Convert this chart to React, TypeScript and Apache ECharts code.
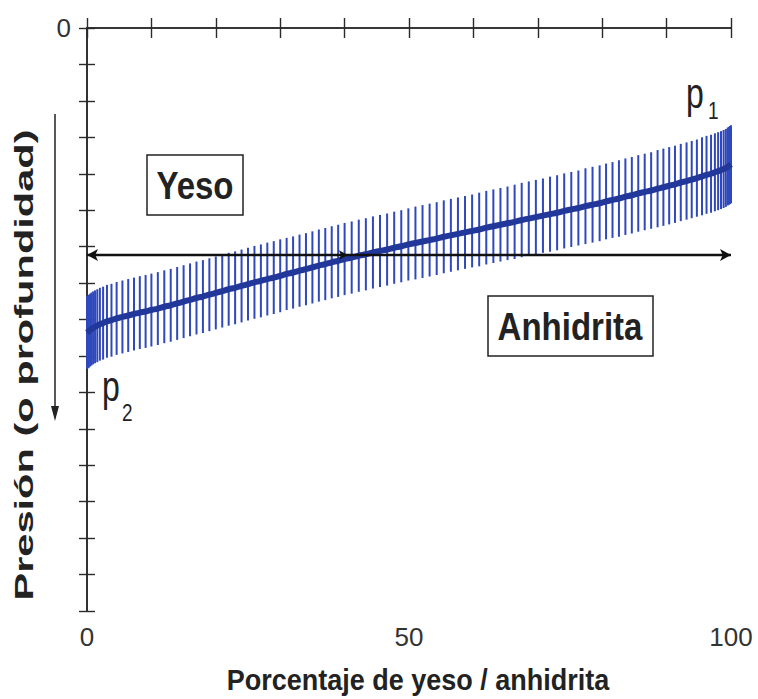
import React, { useEffect, useRef } from "react";
import * as echarts from "echarts";

// Percentage of gypsum (x) at each error-bar position
const xs = [
  0, 0.15, 0.3, 0.5, 0.7, 0.95, 1.25, 1.6, 2.0, 2.5, 3.1, 3.8, 4.6, 5.5, 6.4, 7.3, 8.2, 9.1, 10.0,
  11, 12, 13, 14, 15, 16, 17, 18, 19, 20, 21, 22, 23, 24, 25, 26, 27, 28, 29, 30,
  31, 32, 33, 34, 35, 36, 37, 38, 39, 40,
  41.1, 42.2, 43.3, 44.4, 45.5, 46.6, 47.7, 48.8, 49.9, 51.0, 52.1, 53.2, 54.3, 55.4, 56.5, 57.6,
  58.7, 59.8, 60.9, 62.0, 63.1, 64.2, 65.3, 66.4, 67.5, 68.6, 69.7, 70.8, 71.9, 73.0, 74.1, 75.2,
  76.3, 77.4, 78.5, 79.6, 80.6, 81.6, 82.6, 83.6, 84.6, 85.6, 86.6, 87.6, 88.6, 89.5, 90.4, 91.3,
  92.2, 93.1, 93.9, 94.7, 95.5, 96.2, 96.9, 97.5, 98.0, 98.45, 98.85, 99.2, 99.5, 99.7, 99.85, 100,
];

// Pressure (depth) of the equilibrium curve at each position
const center = [
  8.36, 8.34, 8.32, 8.29, 8.26, 8.23, 8.2, 8.17, 8.13, 8.1, 8.05, 8.02, 7.97, 7.93, 7.89, 7.85, 7.81, 7.78, 7.74,
  7.7, 7.65, 7.61, 7.56, 7.51, 7.46, 7.41, 7.37, 7.32, 7.27, 7.22, 7.17, 7.13, 7.08, 7.03, 6.98, 6.94, 6.89, 6.85, 6.8,
  6.75, 6.71, 6.66, 6.62, 6.57, 6.52, 6.48, 6.43, 6.39, 6.34,
  6.3, 6.25, 6.21, 6.16, 6.12, 6.08, 6.03, 5.99, 5.94, 5.9, 5.86, 5.82, 5.78, 5.73, 5.69, 5.65,
  5.61, 5.57, 5.53, 5.48, 5.44, 5.4, 5.36, 5.32, 5.27, 5.23, 5.19, 5.15, 5.11, 5.07, 5.02, 4.98,
  4.94, 4.89, 4.85, 4.81, 4.76, 4.72, 4.68, 4.63, 4.59, 4.54, 4.5, 4.46, 4.41, 4.37, 4.33, 4.29,
  4.24, 4.2, 4.16, 4.12, 4.07, 4.03, 4.0, 3.96, 3.93, 3.9, 3.87, 3.84, 3.8, 3.78, 3.76, 3.74,
];

// Half-width of the uncertainty bar at each position
const errs = [
  1.0, 1.0, 1.0, 1.0, 1.0, 1.0, 1.0, 1.0, 1.0, 1.0, 1.0, 1.0, 1.0, 1.0, 1.0, 1.0, 1.0, 1.0, 1.0,
  1.0, 1.0, 1.0, 1.0, 1.0, 1.0, 1.0, 1.0, 1.0, 1.0, 1.0, 1.0, 1.0, 1.0, 1.0, 1.0, 1.0, 1.0, 1.0, 1.0,
  0.99, 0.99, 0.99, 0.99, 0.99, 0.99, 0.99, 0.99, 0.99, 0.99,
  0.99, 0.99, 0.99, 0.99, 0.99, 0.99, 0.99, 0.99, 0.99, 1.0, 1.0, 1.0, 1.0, 1.0, 1.0, 1.0,
  1.0, 1.0, 1.01, 1.01, 1.01, 1.01, 1.01, 1.02, 1.02, 1.02, 1.02, 1.02, 1.03, 1.03, 1.03, 1.03,
  1.03, 1.04, 1.04, 1.04, 1.04, 1.04, 1.05, 1.05, 1.05, 1.05, 1.05, 1.05, 1.06, 1.06, 1.06, 1.06,
  1.06, 1.06, 1.06, 1.06, 1.07, 1.07, 1.07, 1.07, 1.07, 1.07, 1.07, 1.07, 1.07, 1.07, 1.07, 1.07,
];

// Gypsum / anhydrite boundary line
const boundaryLevel = 6.23;
const boundaryArrowXs = [0, 40.5, 100];

const xTickLabels = [0, 50, 100];
const yTickLabels = [0];

const FONT = "'Liberation Sans', Arial, Helvetica, sans-serif";

export default function App() {
  const ref = useRef<HTMLDivElement>(null);

  useEffect(() => {
    if (!ref.current) return;
    const chart = echarts.init(ref.current, null, { renderer: "svg" });

    const barData = xs.map((x, i) => [x, center[i] - errs[i], center[i] + errs[i]]);
    const lineData = xs.map((x, i) => [x, center[i]]);
    const boundaryData = boundaryArrowXs.map((x, i) => ({
      value: [x, boundaryLevel],
      symbol: "arrow",
      symbolSize: i === 1 ? [7, 9] : [9, 11],
      symbolRotate: i === 0 ? 90 : -90,
    }));

    const axisLineStyle = { color: "#2a2a2a", width: 1.6 };

    chart.setOption({
      animation: false,
      backgroundColor: "#ffffff",
      grid: { left: 87, top: 28, width: 644, height: 583, containLabel: false },
      xAxis: [
        {
          type: "value",
          min: 0,
          max: 100,
          interval: 10,
          position: "bottom",
          axisLine: { show: true, lineStyle: axisLineStyle },
          axisTick: { show: true, inside: true, length: 10, lineStyle: { color: "#2a2a2a", width: 1.4 } },
          axisLabel: {
            show: true,
            margin: 13,
            fontSize: 26,
            color: "#333",
            fontFamily: FONT,
            formatter: (v: number) => (xTickLabels.includes(v) ? String(v) : ""),
          },
          splitLine: { show: false },
        },
        {
          type: "value",
          min: 0,
          max: 100,
          interval: 10,
          position: "top",
          axisLine: { show: true, lineStyle: axisLineStyle },
          axisTick: { show: true, inside: true, length: 10, lineStyle: { color: "#2a2a2a", width: 1.4 } },
          axisLabel: { show: false },
          splitLine: { show: false },
        },
      ],
      yAxis: [
        {
          type: "value",
          min: 0,
          max: 16,
          interval: 1,
          inverse: true,
          position: "left",
          axisLine: { show: true, lineStyle: axisLineStyle },
          axisTick: { show: true, inside: true, length: 8, lineStyle: { color: "#2a2a2a", width: 1.4 } },
          axisLabel: {
            show: true,
            margin: 16,
            fontSize: 26,
            color: "#333",
            fontFamily: FONT,
            formatter: (v: number) => (yTickLabels.includes(v) ? String(v) : ""),
          },
          splitLine: { show: false },
        },
        {
          type: "value",
          min: 0,
          max: 16,
          interval: 1,
          inverse: true,
          position: "right",
          axisLine: { show: true, lineStyle: axisLineStyle },
          axisTick: { show: true, inside: true, length: 8, lineStyle: { color: "#2a2a2a", width: 1.4 } },
          axisLabel: { show: false },
          splitLine: { show: false },
        },
      ],
      series: [
        {
          type: "custom",
          name: "bars",
          xAxisIndex: 0,
          yAxisIndex: 0,
          data: barData,
          encode: { x: 0, y: [1, 2] },
          clip: false,
          renderItem: (params: any, api: any) => {
            const p1 = api.coord([api.value(0), api.value(1)]);
            const p2 = api.coord([api.value(0), api.value(2)]);
            return {
              type: "line",
              shape: { x1: p1[0], y1: p1[1], x2: p2[0], y2: p2[1] },
              style: { stroke: "#2f48bc", lineWidth: 2 },
            };
          },
          z: 2,
        },
        {
          type: "line",
          name: "curve",
          data: lineData,
          showSymbol: false,
          smooth: true,
          lineStyle: { color: "#22379a", width: 6 },
          z: 3,
        },
        {
          type: "line",
          name: "boundary",
          data: boundaryData,
          showSymbol: true,
          itemStyle: { color: "#111" },
          lineStyle: { color: "#111", width: 2.6 },
          z: 4,
        },
      ],
      graphic: [
        // y axis title
        {
          type: "text",
          x: 24,
          y: 365,
          rotation: Math.PI / 2,
          scaleX: 1.6,
          style: {
            text: "Presión (o profundidad)",
            fill: "#222",
            fontSize: 26,
            fontWeight: "bold",
            fontFamily: FONT,
            align: "center",
            verticalAlign: "middle",
          },
        },
        // depth arrow
        {
          type: "line",
          shape: { x1: 55, y1: 114, x2: 55, y2: 410 },
          style: { stroke: "#222", lineWidth: 1.5 },
        },
        {
          type: "polygon",
          shape: { points: [[51, 406], [59, 406], [55, 421]] },
          style: { fill: "#222" },
        },
        // x axis title
        {
          type: "text",
          x: 418,
          y: 680,
          scaleY: 1.1,
          style: {
            text: "Porcentaje de yeso / anhidrita",
            fill: "#222",
            fontSize: 27,
            fontWeight: "bold",
            fontFamily: FONT,
            align: "center",
            verticalAlign: "middle",
          },
        },
        // Yeso box
        {
          type: "rect",
          shape: { x: 147, y: 155, width: 96, height: 60 },
          style: { fill: "#fff", stroke: "#222", lineWidth: 1.5 },
        },
        {
          type: "text",
          x: 195,
          y: 186,
          scaleY: 1.15,
          style: {
            text: "Yeso",
            fill: "#222",
            fontSize: 33,
            fontWeight: "bold",
            fontFamily: FONT,
            align: "center",
            verticalAlign: "middle",
          },
        },
        // Anhidrita box
        {
          type: "rect",
          shape: { x: 488, y: 296, width: 165, height: 60 },
          style: { fill: "#fff", stroke: "#222", lineWidth: 1.5 },
        },
        {
          type: "text",
          x: 570,
          y: 327,
          scaleY: 1.15,
          style: {
            text: "Anhidrita",
            fill: "#222",
            fontSize: 33,
            fontWeight: "bold",
            fontFamily: FONT,
            align: "center",
            verticalAlign: "middle",
          },
        },
        // p1
        {
          type: "text",
          x: 686,
          y: 93,
          scaleY: 1.3,
          style: { text: "p", fill: "#222", fontSize: 32, fontFamily: FONT, align: "left", verticalAlign: "middle" },
        },
        {
          type: "text",
          x: 708,
          y: 111,
          scaleY: 1.3,
          style: { text: "1", fill: "#222", fontSize: 19, fontFamily: FONT, align: "left", verticalAlign: "middle" },
        },
        // p2
        {
          type: "text",
          x: 102,
          y: 386,
          scaleY: 1.3,
          style: { text: "p", fill: "#222", fontSize: 32, fontFamily: FONT, align: "left", verticalAlign: "middle" },
        },
        {
          type: "text",
          x: 122,
          y: 413,
          scaleY: 1.3,
          style: { text: "2", fill: "#222", fontSize: 19, fontFamily: FONT, align: "left", verticalAlign: "middle" },
        },
      ],
    });

    return () => chart.dispose();
  }, []);

  return <div ref={ref} style={{ width: 758, height: 699, position: "absolute", left: 0, top: 0 }} />;
}
